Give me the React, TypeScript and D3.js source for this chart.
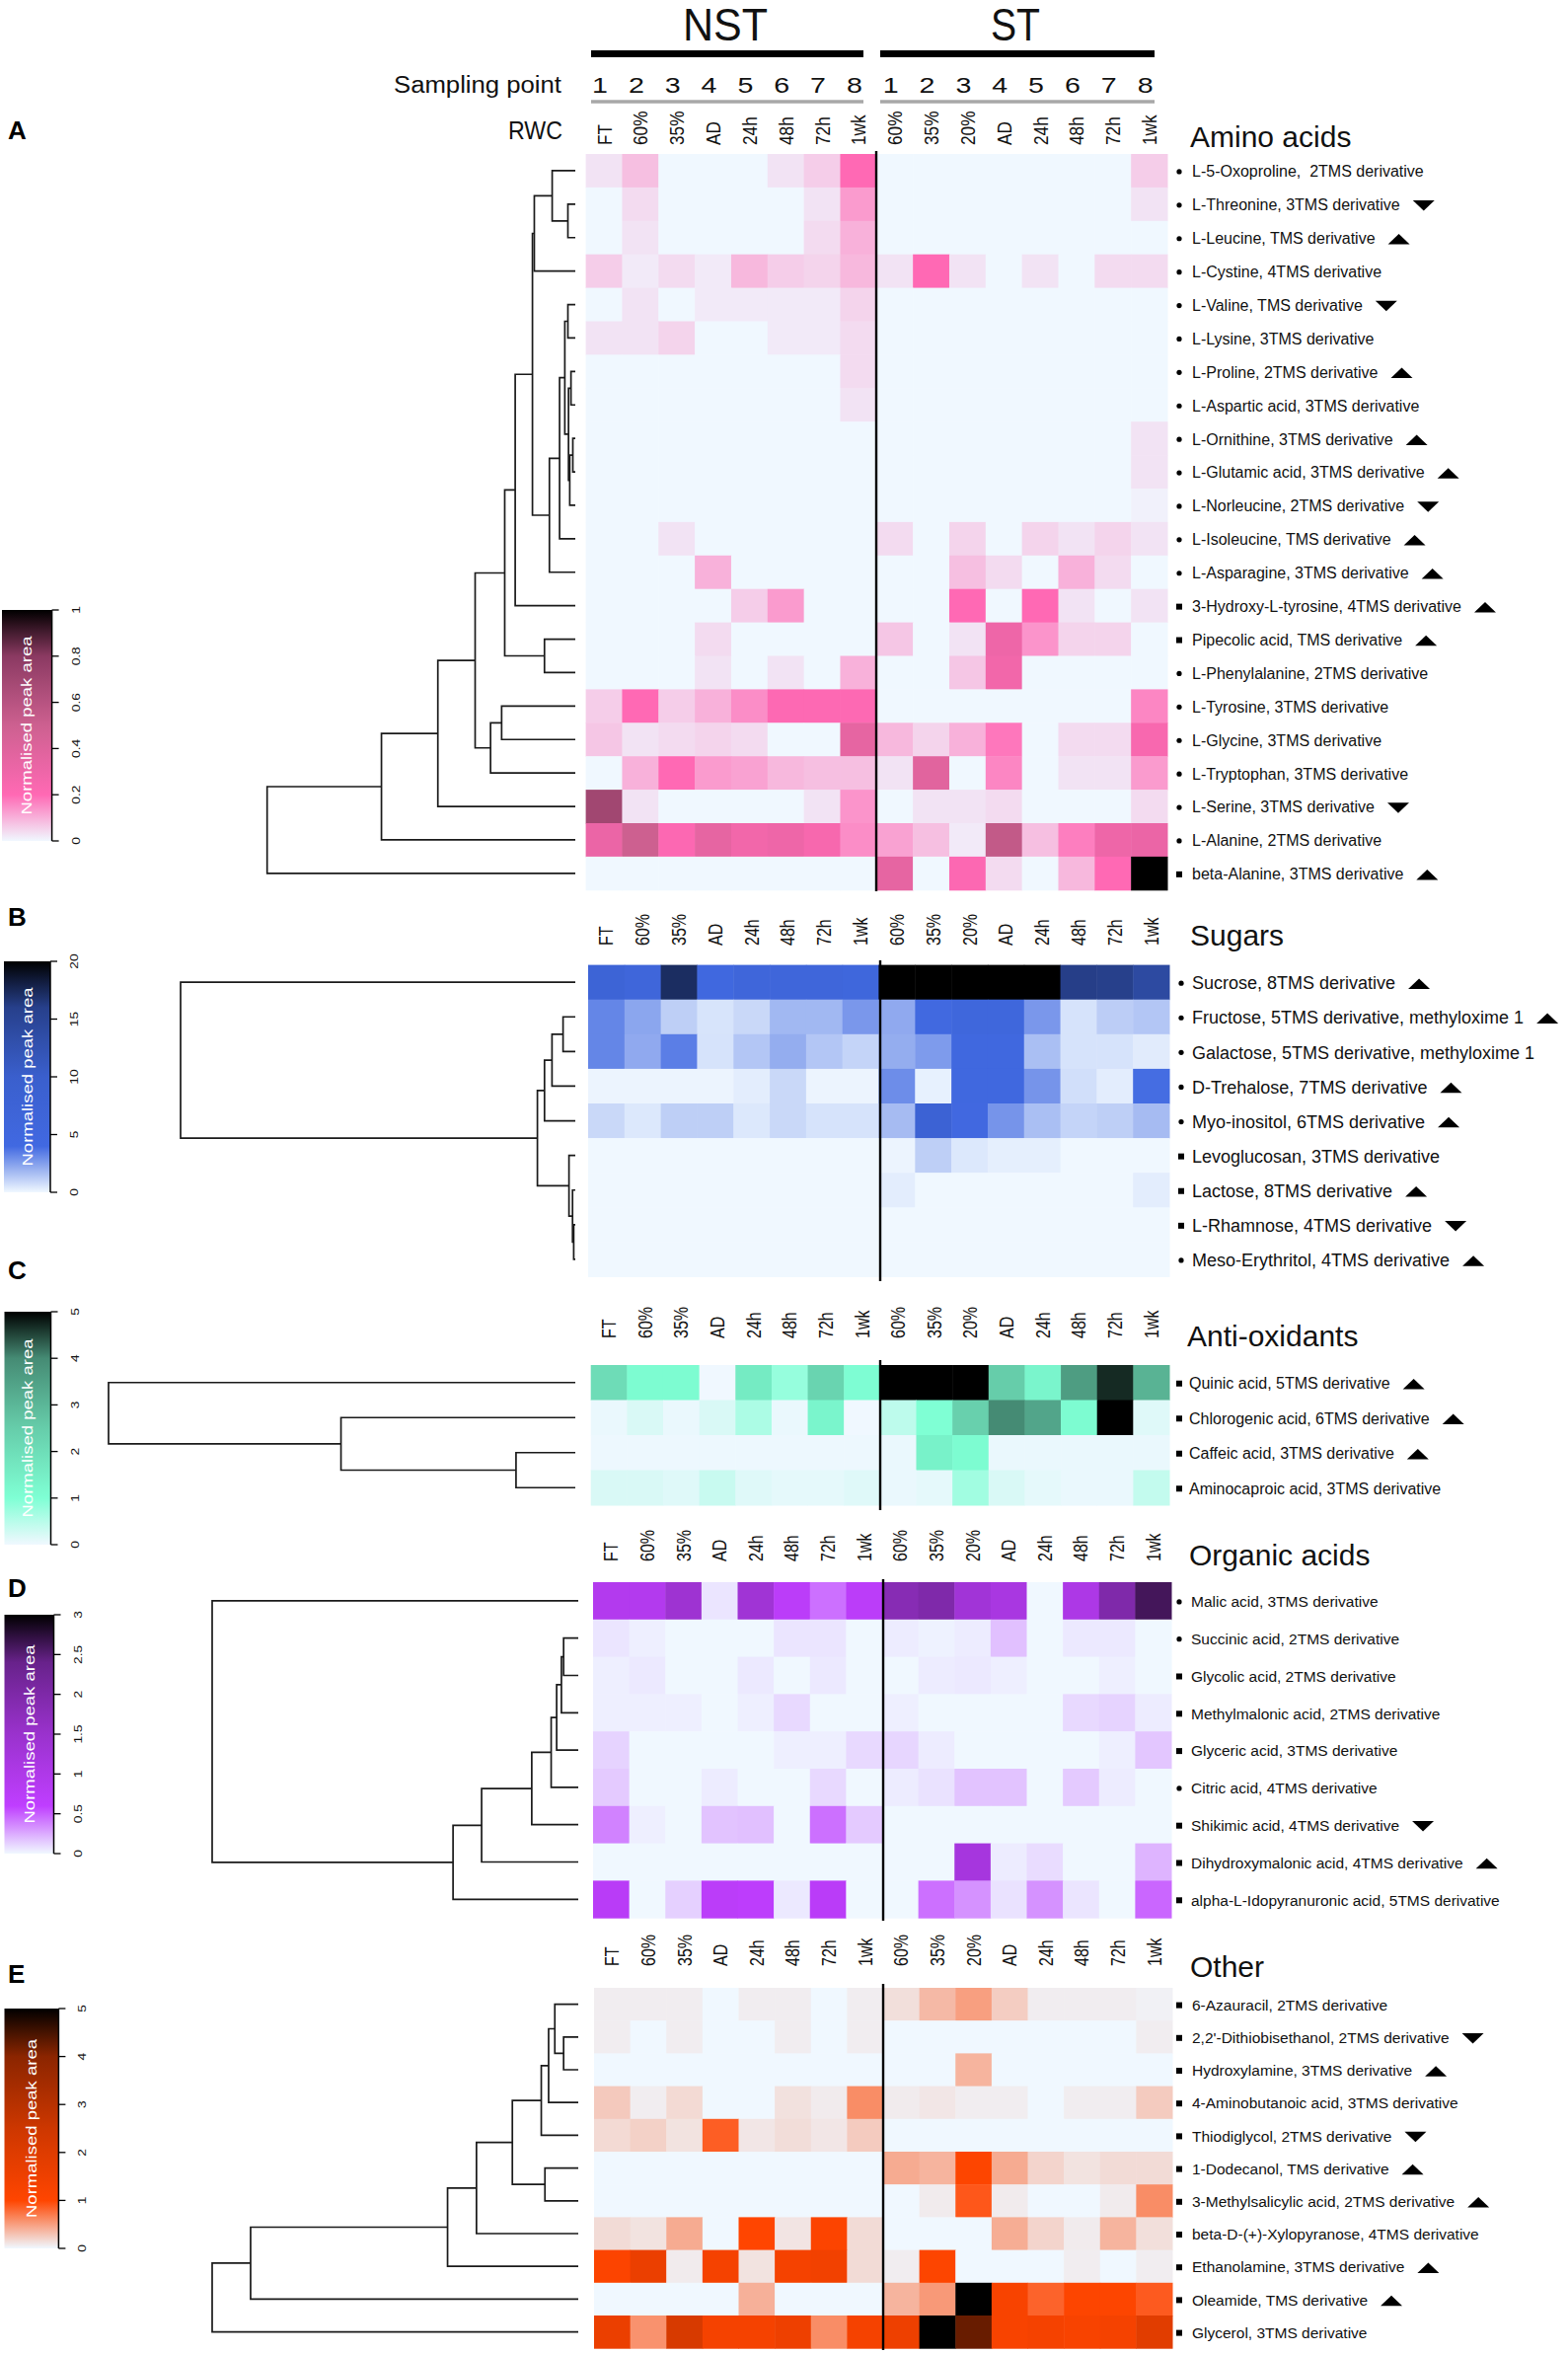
import React, { useEffect, useRef } from 'react';
import * as d3 from 'd3';

const FONT = "'Liberation Sans', Arial, Helvetica, sans-serif";

// ---------------- shared header data ----------------
const GROUPS = ['NST', 'ST'];
const SAMPLING_POINTS = ['1', '2', '3', '4', '5', '6', '7', '8'];
const NST_RWC = ['FT', '60%', '35%', 'AD', '24h', '48h', '72h', '1wk'];
const ST_RWC = ['60%', '35%', '20%', 'AD', '24h', '48h', '72h', '1wk'];
const RWC_LABELS = [...NST_RWC, ...ST_RWC];

// ---------------- A. Amino acids ----------------
const aminoNames = [
  'L-5-Oxoproline,  2TMS derivative', 'L-Threonine, 3TMS derivative', 'L-Leucine, TMS derivative',
  'L-Cystine, 4TMS derivative', 'L-Valine, TMS derivative', 'L-Lysine, 3TMS derivative',
  'L-Proline, 2TMS derivative', 'L-Aspartic acid, 3TMS derivative', 'L-Ornithine, 3TMS derivative',
  'L-Glutamic acid, 3TMS derivative', 'L-Norleucine, 2TMS derivative', 'L-Isoleucine, TMS derivative',
  'L-Asparagine, 3TMS derivative', '3-Hydroxy-L-tyrosine, 4TMS derivative', 'Pipecolic acid, TMS derivative',
  'L-Phenylalanine, 2TMS derivative', 'L-Tyrosine, 3TMS derivative', 'L-Glycine, 3TMS derivative',
  'L-Tryptophan, 3TMS derivative', 'L-Serine, 3TMS derivative', 'L-Alanine, 2TMS derivative',
  'beta-Alanine, 3TMS derivative',
];
const aminoMarkers = 'cccccccccccccssccccccs';
const aminoTrends = ['', 'd', 'u', '', 'd', '', 'u', '', 'u', 'u', 'd', 'u', 'u', 'u', 'u', '', '', '', '', 'd', '', 'u'];
const aminoValues = [
  [0.03, 0.08, 0, 0, 0, 0.03, 0.06, 0.2, 0, 0, 0, 0, 0, 0, 0, 0.06],
  [0, 0.04, 0, 0, 0, 0, 0.03, 0.13, 0, 0, 0, 0, 0, 0, 0, 0.03],
  [0, 0.03, 0, 0, 0, 0, 0.04, 0.1, 0, 0, 0, 0, 0, 0, 0, 0],
  [0.06, 0.02, 0.04, 0.02, 0.09, 0.06, 0.05, 0.09, 0.03, 0.2, 0.03, 0, 0.03, 0, 0.04, 0.04],
  [0, 0.03, 0, 0.02, 0.02, 0.02, 0.02, 0.05, 0, 0, 0, 0, 0, 0, 0, 0],
  [0.03, 0.03, 0.05, 0, 0, 0.02, 0.02, 0.04, 0, 0, 0, 0, 0, 0, 0, 0],
  [0, 0, 0, 0, 0, 0, 0, 0.04, 0, 0, 0, 0, 0, 0, 0, 0],
  [0, 0, 0, 0, 0, 0, 0, 0.03, 0, 0, 0, 0, 0, 0, 0, 0],
  [0, 0, 0, 0, 0, 0, 0, 0, 0, 0, 0, 0, 0, 0, 0, 0.03],
  [0, 0, 0, 0, 0, 0, 0, 0, 0, 0, 0, 0, 0, 0, 0, 0.03],
  [0, 0, 0, 0, 0, 0, 0, 0, 0, 0, 0, 0, 0, 0, 0, 0.01],
  [0, 0, 0.03, 0, 0, 0, 0, 0, 0.04, 0, 0.05, 0, 0.05, 0.03, 0.05, 0.03],
  [0, 0, 0, 0.1, 0, 0, 0, 0, 0, 0, 0.08, 0.04, 0, 0.1, 0.04, 0],
  [0, 0, 0, 0, 0.06, 0.13, 0, 0, 0, 0, 0.2, 0, 0.2, 0.03, 0, 0.03],
  [0, 0, 0, 0.04, 0, 0, 0, 0, 0.07, 0, 0.03, 0.3, 0.14, 0.05, 0.05, 0],
  [0, 0, 0, 0.03, 0, 0.03, 0, 0.1, 0, 0, 0.07, 0.28, 0, 0, 0, 0],
  [0.06, 0.2, 0.06, 0.1, 0.15, 0.21, 0.21, 0.21, 0, 0, 0, 0, 0, 0, 0, 0.16],
  [0.07, 0.03, 0.04, 0.05, 0.04, 0, 0, 0.35, 0.09, 0.05, 0.1, 0.18, 0, 0.04, 0.04, 0.24],
  [0, 0.1, 0.2, 0.13, 0.12, 0.09, 0.08, 0.08, 0.03, 0.38, 0, 0.16, 0, 0.03, 0.03, 0.13],
  [0.7, 0.03, 0, 0, 0, 0, 0.03, 0.14, 0, 0.03, 0.03, 0.04, 0, 0, 0, 0.04],
  [0.32, 0.5, 0.22, 0.35, 0.28, 0.3, 0.25, 0.15, 0.12, 0.08, 0.02, 0.55, 0.08, 0.17, 0.3, 0.32],
  [0, 0, 0, 0, 0, 0, 0, 0, 0.35, 0, 0.22, 0.04, 0, 0.09, 0.2, 1.0],
];
// hclust-style merges: negative = leaf (row) index, positive = earlier merge; last = height
const aminoMerges = [
  [-2, -3, 0.024], [-1, 1, 0.075], [2, -4, 0.133], [-5, -6, 0.024], [-7, -8, 0.014],
  [-9, -10, 0.008], [6, -11, 0.018], [5, 7, 0.022], [4, 8, 0.034], [9, -12, 0.051],
  [10, -13, 0.084], [3, 11, 0.139], [12, -14, 0.195], [-15, -16, 0.1], [13, 14, 0.229],
  [-17, -18, 0.239], [16, -19, 0.275], [15, 17, 0.325], [18, -20, 0.446], [19, -21, 0.629],
  [20, -22, 1.0],
];
const aminoTicks = [0, 0.2, 0.4, 0.6, 0.8, 1];

// ---------------- B. Sugars ----------------
const sugarNames = [
  'Sucrose, 8TMS derivative', 'Fructose, 5TMS derivative, methyloxime 1', 'Galactose, 5TMS derivative, methyloxime 1',
  'D-Trehalose, 7TMS derivative', 'Myo-inositol, 6TMS derivative', 'Levoglucosan, 3TMS derivative',
  'Lactose, 8TMS derivative', 'L-Rhamnose, 4TMS derivative', 'Meso-Erythritol, 4TMS derivative',
];
const sugarMarkers = 'cccccsssc';
const sugarTrends = ['u', 'u', '', 'u', 'u', '', 'u', 'd', 'u'];
const sugarValues = [
  [7.3, 6, 17.2, 4.5, 6, 6, 6, 5.5, 20, 20, 20, 20, 20, 16.1, 16, 14],
  [3.2, 2.3, 1.15, 0.57, 0.9, 1.8, 1.8, 2.7, 2.2, 4.2, 5.5, 5.5, 2.7, 0.6, 1.2, 1.4],
  [3.2, 2.2, 3.4, 0.6, 1.4, 2.1, 1.4, 1.0, 2.1, 2.6, 4.6, 4.6, 1.6, 0.6, 0.6, 0.35],
  [0.1, 0.1, 0.1, 0.1, 0.3, 0.9, 0.1, 0.1, 3.0, 0.2, 4.6, 4.6, 2.8, 0.7, 0.3, 3.9],
  [0.9, 0.45, 1.15, 1.15, 0.45, 0.9, 0.6, 0.6, 1.7, 8, 4.4, 2.8, 1.6, 1.0, 1.15, 1.7],
  [0, 0, 0, 0, 0, 0, 0, 0, 0.1, 1.15, 0.45, 0.25, 0.25, 0, 0, 0],
  [0, 0, 0, 0, 0, 0, 0, 0, 0.3, 0, 0, 0, 0, 0, 0, 0.3],
  [0, 0, 0, 0, 0, 0, 0, 0, 0, 0, 0, 0, 0, 0, 0, 0],
  [0, 0, 0, 0, 0, 0, 0, 0, 0, 0, 0, 0, 0, 0, 0, 0],
];
const sugarMerges = [
  [-2, -3, 0.031], [1, -4, 0.059], [2, -5, 0.078], [-8, -9, 0.004], [-7, 4, 0.007],
  [-6, 5, 0.016], [3, 6, 0.096], [-1, 7, 1.0],
];
const sugarTicks = [0, 5, 10, 15, 20];

// ---------------- C. Anti-oxidants ----------------
const antioxNames = [
  'Quinic acid, 5TMS derivative', 'Chlorogenic acid, 6TMS derivative', 'Caffeic acid, 3TMS derivative',
  'Aminocaproic acid, 3TMS derivative',
];
const antioxMarkers = 'ssss';
const antioxTrends = ['u', 'u', 'u', ''];
const antioxValues = [
  [2.05, 1.1, 1.1, 0, 1.6, 0.8, 2.3, 1.05, 5, 5, 5, 2.5, 1.3, 3.6, 4.7, 3.1],
  [0.05, 0.2, 0.05, 0.2, 0.6, 0.05, 1.3, 0, 0.45, 1.0, 2.4, 4.0, 3.4, 1.1, 5, 0.15],
  [0.03, 0.03, 0.03, 0.03, 0.03, 0.03, 0.03, 0.03, 0.05, 1.4, 1.1, 0.05, 0.05, 0.05, 0.05, 0.05],
  [0.2, 0.2, 0.15, 0.35, 0.15, 0.1, 0.1, 0.15, 0.05, 0.1, 0.7, 0.2, 0.1, 0.05, 0.05, 0.4],
];
const antioxMerges = [[-3, -4, 0.127], [-2, 1, 0.502], [-1, 2, 1.0]];
const antioxTicks = [0, 1, 2, 3, 4, 5];

// ---------------- D. Organic acids ----------------
const organicNames = [
  'Malic acid, 3TMS derivative', 'Succinic acid, 2TMS derivative', 'Glycolic acid, 2TMS derivative',
  'Methylmalonic acid, 2TMS derivative', 'Glyceric acid, 3TMS derivative', 'Citric acid, 4TMS derivative',
  'Shikimic acid, 4TMS derivative', 'Dihydroxymalonic acid, 4TMS derivative',
  'alpha-L-Idopyranuronic acid, 5TMS derivative',
];
const organicMarkers = 'ccssscsss';
const organicTrends = ['', '', '', '', '', '', 'd', 'u', ''];
const organicValues = [
  [0.9, 0.9, 1.41, 0.06, 1.35, 0.7, 0.44, 0.7, 1.84, 1.98, 1.32, 1.14, 0, 1.05, 1.98, 2.61],
  [0.06, 0.03, 0, 0, 0, 0.06, 0.06, 0, 0.04, 0.02, 0.04, 0.18, 0, 0.05, 0.05, 0],
  [0.03, 0.05, 0, 0, 0.05, 0, 0.05, 0, 0, 0.04, 0.05, 0.03, 0, 0, 0.03, 0],
  [0.03, 0.03, 0.03, 0, 0.03, 0.1, 0, 0, 0.03, 0, 0, 0, 0, 0.1, 0.12, 0.04],
  [0.12, 0, 0, 0, 0, 0.03, 0.03, 0.1, 0.11, 0.04, 0, 0, 0, 0, 0.03, 0.16],
  [0.15, 0, 0, 0.04, 0, 0, 0.1, 0, 0.04, 0.07, 0.17, 0.17, 0, 0.15, 0.04, 0],
  [0.38, 0.03, 0, 0.17, 0.18, 0, 0.44, 0.15, 0, 0, 0, 0, 0, 0, 0, 0],
  [0, 0, 0, 0, 0, 0, 0, 0, 0, 0, 1.2, 0.04, 0.09, 0, 0, 0.22],
  [0.75, 0, 0.13, 0.7, 0.65, 0.05, 0.72, 0, 0, 0.44, 0.33, 0.07, 0.33, 0.06, 0, 0.47],
];
const organicMerges = [
  [-2, -3, 0.04], [1, -4, 0.046], [2, -5, 0.059], [3, -6, 0.074], [4, -7, 0.127],
  [5, -8, 0.264], [6, -9, 0.342], [-1, 7, 1.0],
];
const organicTicks = [0, 0.5, 1, 1.5, 2, 2.5, 3];

// ---------------- E. Other ----------------
const otherNames = [
  '6-Azauracil, 2TMS derivative', "2,2'-Dithiobisethanol, 2TMS derivative", 'Hydroxylamine, 3TMS derivative',
  '4-Aminobutanoic acid, 3TMS derivative', 'Thiodiglycol, 2TMS derivative', '1-Dodecanol, TMS derivative',
  '3-Methylsalicylic acid, 2TMS derivative', 'beta-D-(+)-Xylopyranose, 4TMS derivative',
  'Ethanolamine, 3TMS derivative', 'Oleamide, TMS derivative', 'Glycerol, 3TMS derivative',
];
const otherMarkers = 'sssssssssss';
const otherTrends = ['', 'd', 'u', '', 'd', 'u', 'u', '', 'u', 'u', ''];
const otherValues = [
  [0.06, 0.06, 0.06, 0, 0.06, 0.06, 0, 0.06, 0.14, 0.35, 0.5, 0.24, 0.06, 0.06, 0.06, 0.04],
  [0.06, 0, 0.06, 0, 0, 0.06, 0, 0.06, 0, 0, 0, 0, 0, 0, 0, 0.06],
  [0, 0, 0, 0, 0, 0, 0, 0, 0, 0, 0.38, 0, 0, 0, 0, 0],
  [0.26, 0.06, 0.17, 0, 0, 0.13, 0.07, 0.6, 0.07, 0.1, 0.06, 0.06, 0, 0.06, 0.06, 0.25],
  [0.17, 0.22, 0.12, 0.86, 0.1, 0.15, 0.1, 0.25, 0, 0, 0, 0, 0, 0, 0, 0],
  [0, 0, 0, 0, 0, 0, 0, 0, 0.43, 0.38, 1.05, 0.43, 0.2, 0.12, 0.16, 0.16],
  [0, 0, 0, 0, 0, 0, 0, 0, 0, 0.07, 0.9, 0.07, 0, 0, 0.07, 0.6],
  [0.16, 0.12, 0.43, 0, 1.0, 0.11, 1.1, 0.16, 0, 0, 0, 0.42, 0.2, 0.07, 0.38, 0.14],
  [1.1, 1.6, 0.07, 1.3, 0.12, 1.3, 1.4, 0.16, 0.06, 1.05, 0, 0, 0, 0.06, 0, 0.06],
  [0, 0, 0, 0, 0.4, 0, 0, 0, 0.38, 0.53, 5, 1.2, 0.83, 1.05, 1.05, 0.88],
  [1.6, 0.57, 2.2, 1.3, 1.3, 1.5, 0.6, 1.3, 1.5, 5, 4.25, 1.2, 1.3, 1.2, 1.3, 1.9],
];
const otherMerges = [
  [-2, -3, 0.04], [-1, 1, 0.064], [2, -4, 0.081], [3, -5, 0.101], [-6, -7, 0.091],
  [4, 5, 0.18], [6, -8, 0.278], [7, -9, 0.357], [8, -10, 0.895], [9, -11, 1.0],
];
const otherTicks = [0, 1, 2, 3, 4, 5];

// ---------------- sections (data) ----------------
const SECTIONS = [
  { key: 'A', title: 'Amino acids', names: aminoNames, markers: aminoMarkers, trends: aminoTrends, values: aminoValues, merges: aminoMerges, max: 1, ticks: aminoTicks, palette: ['#FF69B4', '#CD6090', '#8B3A62'] },
  { key: 'B', title: 'Sugars', names: sugarNames, markers: sugarMarkers, trends: sugarTrends, values: sugarValues, merges: sugarMerges, max: 20, ticks: sugarTicks, palette: ['#4169E1', '#3A5FCD', '#27408B'] },
  { key: 'C', title: 'Anti-oxidants', names: antioxNames, markers: antioxMarkers, trends: antioxTrends, values: antioxValues, merges: antioxMerges, max: 5, ticks: antioxTicks, palette: ['#7FFFD4', '#66CDAA', '#458B74'] },
  { key: 'D', title: 'Organic acids', names: organicNames, markers: organicMarkers, trends: organicTrends, values: organicValues, merges: organicMerges, max: 3, ticks: organicTicks, palette: ['#BF3EFF', '#9A32CD', '#68228B'] },
  { key: 'E', title: 'Other', names: otherNames, markers: otherMarkers, trends: otherTrends, values: otherValues, merges: otherMerges, max: 5, ticks: otherTicks, palette: ['#FF4500', '#CD3700', '#8B2500'] },
];

// ---------------- layout (positions / sizes) ----------------
const LAYOUT: Record<string, any> = {
  A: { x0: 593.6, x1: 1183, y0: 156, rowH: 33.9, divX: 888, divY0: 153, divY1: 903, rwcY: null, leafX: 583, rootX: 270.7, bar: [2, 52.6, 618, 852], letterY: 141, titleY: 149, labelX: 1208, markerX: 1195, labelSize: 16 },
  B: { x0: 596, x1: 1185, y0: 977.6, rowH: 35.1, divX: 892, divY0: 973, divY1: 1298, rwcY: 958, leafX: 583, rootX: 183, bar: [4, 51, 974, 1208], letterY: 938, titleY: 958, labelX: 1208, markerX: 1197, labelSize: 18 },
  C: { x0: 598.7, x1: 1185, y0: 1383, rowH: 35.5, divX: 892, divY0: 1378, divY1: 1530, rwcY: 1356, leafX: 583, rootX: 110, bar: [4.5, 51.5, 1329, 1565], letterY: 1296, titleY: 1364, labelX: 1205, markerX: 1195, labelSize: 16 },
  D: { x0: 601, x1: 1187, y0: 1603, rowH: 37.8, divX: 895, divY0: 1600, divY1: 1946, rwcY: 1582, leafX: 586, rootX: 215, bar: [4.5, 54.5, 1636, 1878], letterY: 1618, titleY: 1586, labelX: 1207, markerX: 1195, labelSize: 15.5 },
  E: { x0: 602, x1: 1188, y0: 2014, rowH: 33.2, divX: 895, divY0: 2010, divY1: 2381, rwcY: 1992, leafX: 586, rootX: 215, bar: [4.5, 59.4, 2035, 2278], letterY: 2009, titleY: 2003, labelX: 1208, markerX: 1195, labelSize: 15.5 },
};

function rotatedLabel(g: any, cx: number, yBottom: number, text: string, size: number, lenScale: number) {
  g.append('text')
    .attr('transform', `translate(${cx + size * 0.36},${yBottom}) rotate(-90) scale(${lenScale},1)`)
    .attr('font-size', size)
    .attr('font-family', FONT)
    .attr('fill', '#111')
    .text(text);
}

function draw(svgEl: SVGSVGElement) {
  const svg = d3.select(svgEl);
  svg.selectAll('*').remove();
  svg.append('rect').attr('width', 1589).attr('height', 2385).attr('fill', '#fff');
  const defs = svg.append('defs');

  // ---------- header ----------
  const hdr = svg.append('g').attr('font-family', FONT).attr('fill', '#111');
  const LA = LAYOUT.A;
  const xA = d3.scaleBand<number>().domain(d3.range(16)).range([LA.x0, LA.x1]);
  const groupX = [[599, 875, 735, 86], [892, 1170, 1029, 50]];
  GROUPS.forEach((gName, i) => {
    const [a, b, c, w] = groupX[i];
    hdr.append('text').attr('x', c).attr('y', 41).attr('text-anchor', 'middle').attr('font-size', 46)
      .attr('textLength', w).attr('lengthAdjust', 'spacingAndGlyphs').text(gName);
    hdr.append('line').attr('x1', a).attr('x2', b).attr('y1', 54.5).attr('y2', 54.5).attr('stroke', '#000').attr('stroke-width', 7);
    hdr.append('line').attr('x1', a).attr('x2', b).attr('y1', 103).attr('y2', 103).attr('stroke', '#a8a8a8').attr('stroke-width', 3.3);
  });
  hdr.append('text').attr('x', 399).attr('y', 94).attr('font-size', 23).attr('textLength', 170)
    .attr('lengthAdjust', 'spacingAndGlyphs').text('Sampling point');
  hdr.append('text').attr('x', 570).attr('y', 141).attr('text-anchor', 'end').attr('font-size', 26)
    .attr('textLength', 55).attr('lengthAdjust', 'spacingAndGlyphs').text('RWC');
  d3.range(16).forEach((j) => {
    const cx = (xA(j) as number) + xA.bandwidth() / 2;
    hdr.append('text').attr('transform', `translate(${cx - 4},94) scale(1.3,1)`).attr('text-anchor', 'middle')
      .attr('font-size', 22).text(SAMPLING_POINTS[j % 8]);
    rotatedLabel(hdr, cx, 147, RWC_LABELS[j], 21, 0.82);
  });

  // ---------- sections ----------
  SECTIONS.forEach((sec) => {
    const L = LAYOUT[sec.key];
    const n = sec.names.length;
    const color = d3.scaleLinear<string>()
      .domain([0, 0.2, 0.5, 0.8, 1].map((f) => f * sec.max))
      .range(['#F0F8FF', sec.palette[0], sec.palette[1], sec.palette[2], '#000000'])
      .interpolate(d3.interpolateRgb)
      .clamp(true);
    const x = d3.scaleBand<number>().domain(d3.range(16)).range([L.x0, L.x1]);
    const y = d3.scaleBand<number>().domain(d3.range(n)).range([L.y0, L.y0 + n * L.rowH]);
    const g = svg.append('g');

    // cells
    const cells = sec.values.flatMap((row, i) => row.map((v, j) => ({ i, j, v })));
    g.append('g').selectAll('rect').data(cells).join('rect')
      .attr('x', (d) => x(d.j) as number)
      .attr('y', (d) => y(d.i) as number)
      .attr('width', x.bandwidth() + 0.5)
      .attr('height', y.bandwidth() + 0.5)
      .attr('fill', (d) => color(d.v));

    // divider NST | ST
    g.append('line').attr('x1', L.divX).attr('x2', L.divX).attr('y1', L.divY0).attr('y2', L.divY1)
      .attr('stroke', '#000').attr('stroke-width', 2.4);

    // RWC labels for sections B-E
    if (L.rwcY !== null) {
      const lg = g.append('g');
      d3.range(16).forEach((j) => {
        const cx = (x(j) as number) + x.bandwidth() / 2;
        rotatedLabel(lg, cx, L.rwcY, RWC_LABELS[j], 19.5, 0.82);
      });
    }

    // title
    g.append('text').attr('x', L.labelX - 2).attr('y', L.titleY).attr('font-size', 30)
      .attr('font-family', FONT).attr('fill', '#111').text(sec.title);

    // panel letter
    g.append('text').attr('x', 8).attr('y', L.letterY).attr('font-size', 26).attr('font-weight', 'bold')
      .attr('font-family', FONT).attr('fill', '#000').text(sec.key);

    // row labels
    const lab = g.append('g').attr('font-family', FONT).attr('fill', '#111');
    sec.names.forEach((name, i) => {
      const cy = (y(i) as number) + y.bandwidth() / 2;
      const fs = L.labelSize;
      if (sec.markers[i] === 'c') {
        lab.append('circle').attr('cx', L.markerX).attr('cy', cy + 1).attr('r', 2.6).attr('fill', '#000');
      } else {
        lab.append('rect').attr('x', L.markerX - 3).attr('y', cy - 2).attr('width', 6).attr('height', 6).attr('fill', '#000');
      }
      const t = lab.append('text').attr('x', L.labelX).attr('y', cy + fs * 0.4).attr('font-size', fs)
        .style('white-space', 'pre').text(name);
      const w = (t.node() as SVGTextElement).getComputedTextLength();
      const tr = sec.trends[i];
      if (tr) {
        const tx = L.labelX + w + 13;
        const tw = 22, th = 10.5;
        const ty = cy + 1.5 - th / 2;
        const p = tr === 'u'
          ? `M${tx},${ty + th}L${tx + tw / 2},${ty}L${tx + tw},${ty + th}Z`
          : `M${tx},${ty}L${tx + tw / 2},${ty + th}L${tx + tw},${ty}Z`;
        lab.append('path').attr('d', p).attr('fill', '#000');
      }
    });

    // dendrogram
    const hx = d3.scaleLinear().domain([0, 1]).range([L.leafX, L.rootX]);
    const nodes: { x: number; y: number }[] = [];
    const pos = (id: number) => (id < 0
      ? { x: hx(0), y: (y(-id - 1) as number) + y.bandwidth() / 2 }
      : nodes[id - 1]);
    const dg = g.append('g').attr('fill', 'none').attr('stroke', '#1a1a1a').attr('stroke-width', 1.7);
    sec.merges.forEach(([a, b, h]) => {
      const pa = pos(a), pb = pos(b);
      const xh = hx(h);
      dg.append('path').attr('d', `M${pa.x},${pa.y}H${xh}V${pb.y}H${pb.x}`);
      nodes.push({ x: xh, y: (pa.y + pb.y) / 2 });
    });

    // colour bar
    const [bx0, bx1, by0, by1] = L.bar;
    const gid = `grad${sec.key}`;
    const grad = defs.append('linearGradient').attr('id', gid).attr('x1', 0).attr('y1', 1).attr('x2', 0).attr('y2', 0);
    d3.range(0, 1.0001, 0.05).forEach((f) => {
      grad.append('stop').attr('offset', f).attr('stop-color', color(f * sec.max));
    });
    g.append('rect').attr('x', bx0).attr('y', by0).attr('width', bx1 - bx0).attr('height', by1 - by0)
      .attr('fill', `url(#${gid})`);
    const by = d3.scaleLinear().domain([0, sec.max]).range([by1, by0]);
    g.append('line').attr('x1', bx1).attr('x2', bx1).attr('y1', by0).attr('y2', by1).attr('stroke', '#000').attr('stroke-width', 1.5);
    sec.ticks.forEach((tk) => {
      g.append('line').attr('x1', bx1).attr('x2', bx1 + 7).attr('y1', by(tk)).attr('y2', by(tk)).attr('stroke', '#000').attr('stroke-width', 1.3);
      g.append('text').attr('transform', `translate(${bx1 + 28},${by(tk)}) rotate(-90) scale(1.2,1)`)
        .attr('text-anchor', 'middle').attr('font-size', 11.5).attr('font-family', FONT).attr('fill', '#111')
        .text(String(tk));
    });
    g.append('text')
      .attr('transform', `translate(${(bx0 + bx1) / 2 + 5},${(by0 + by1) / 2}) rotate(-90)`)
      .attr('text-anchor', 'middle').attr('font-size', 15).attr('font-family', FONT).attr('fill', '#fff')
      .attr('textLength', 181).attr('lengthAdjust', 'spacingAndGlyphs')
      .text('Normalised peak area');
  });
}

export default function App() {
  const ref = useRef<SVGSVGElement>(null);
  useEffect(() => {
    if (ref.current) draw(ref.current);
  }, []);
  return (
    <svg ref={ref} width={1589} height={2385}
      style={{ position: 'absolute', left: 0, top: 0, display: 'block', background: '#fff' }} />
  );
}
